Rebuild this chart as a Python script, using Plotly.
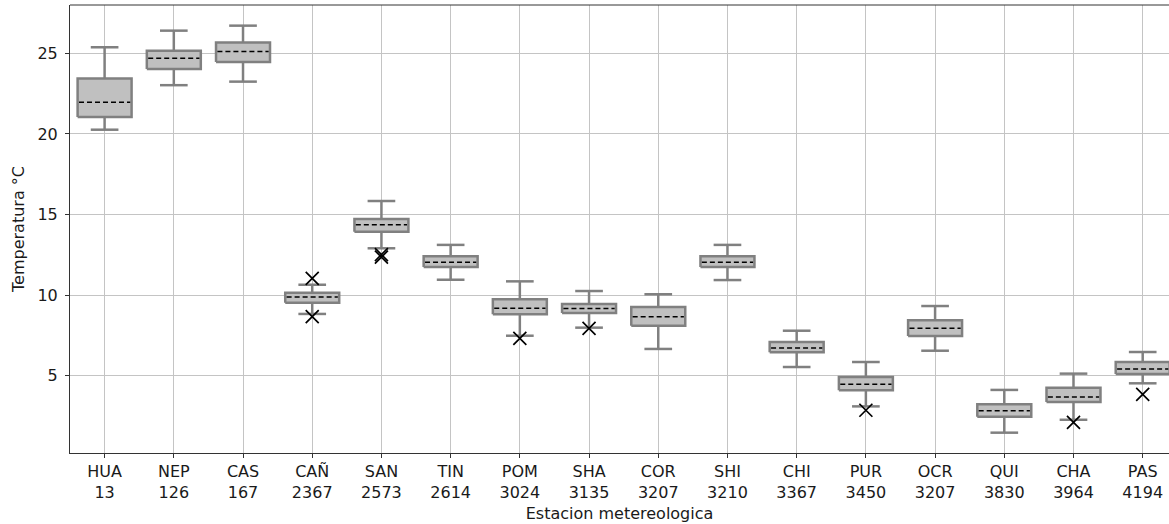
import plotly.graph_objects as go

# Estaciones meteorologicas y su altitud (m s.n.m.)
stations = ["HUA", "NEP", "CAS", "CAÑ", "SAN", "TIN", "POM", "SHA",
            "COR", "SHI", "CHI", "PUR", "OCR", "QUI", "CHA", "PAS"]
altitudes = [13, 126, 167, 2367, 2573, 2614, 3024, 3135,
             3207, 3210, 3367, 3450, 3207, 3830, 3964, 4194]

# Estadisticos de temperatura (°C) por estacion
whisker_low = [20.26, 23.02, 23.24, 8.84, 12.91, 10.96, 7.49, 7.99,
               6.67, 10.94, 5.55, 3.11, 6.56, 1.48, 2.28, 4.54]
q1 = [21.05, 24.03, 24.46, 9.54, 13.94, 11.75, 8.82, 8.90,
      8.11, 11.75, 6.46, 4.11, 7.47, 2.47, 3.38, 5.12]
median = [21.96, 24.69, 25.10, 9.89, 14.37, 12.04, 9.19, 9.17,
          8.67, 12.04, 6.73, 4.48, 7.95, 2.84, 3.69, 5.43]
q3 = [23.43, 25.16, 25.66, 10.16, 14.73, 12.41, 9.75, 9.46,
      9.27, 12.41, 7.10, 4.93, 8.45, 3.24, 4.27, 5.86]
whisker_high = [25.37, 26.40, 26.71, 10.65, 15.84, 13.12, 10.86, 10.26,
                10.06, 13.12, 7.80, 5.86, 9.33, 4.13, 5.14, 6.48]

# Valores atipicos
outlier_station = ["CAÑ", "CAÑ", "SAN", "SAN", "POM", "SHA", "PUR", "CHA", "PAS"]
outlier_temp = [11.05, 8.67, 12.52, 12.36, 7.33, 7.95, 2.87, 2.12, 3.86]

BOX_W = 0.78
CAP_W = 0.40
EDGE = "#808080"
FILL = "#c0c0c0"
SPINE = "#333333"
FONT = dict(family="DejaVu Sans", size=16, color="#1a1a1a")

pos = list(range(1, len(stations) + 1))
idx = {s: p for s, p in zip(stations, pos)}

# Geometria de cajas, bigotes y medianas
bx, by, wx, wy, mx, my = [], [], [], [], [], []
for p, lo, a, m, b, hi in zip(pos, whisker_low, q1, median, q3, whisker_high):
    l, r = p - BOX_W / 2, p + BOX_W / 2
    bx += [l, r, r, l, l, None]
    by += [a, a, b, b, a, None]
    cl, cr = p - CAP_W / 2, p + CAP_W / 2
    wx += [p, p, None, cl, cr, None, p, p, None, cl, cr, None]
    wy += [a, lo, None, lo, lo, None, b, hi, None, hi, hi, None]
    mx += [l + 0.02, r - 0.02, None]
    my += [m, m, None]

fig = go.Figure()
fig.add_trace(go.Scatter(x=wx, y=wy, mode="lines",
                         line=dict(color=EDGE, width=2.5), hoverinfo="skip"))
fig.add_trace(go.Scatter(x=bx, y=by, mode="lines", fill="toself",
                         fillcolor=FILL, line=dict(color=EDGE, width=2.5),
                         hoverinfo="skip"))
fig.add_trace(go.Scatter(x=mx, y=my, mode="lines",
                         line=dict(color="black", width=1.5, dash="5px,3px"),
                         hoverinfo="skip"))
fig.add_trace(go.Scatter(x=[idx[s] for s in outlier_station], y=outlier_temp,
                         mode="markers",
                         marker=dict(symbol="x-thin-open", size=13, color="black",
                                     line=dict(color="black", width=1.7))))

fig.update_layout(
    width=1169, height=524,
    margin=dict(l=70, r=0, t=5, b=71),
    paper_bgcolor="white", plot_bgcolor="white",
    showlegend=False, font=FONT,
    # borde superior del area de trazado
    shapes=[dict(type="line", xref="paper", yref="paper", x0=0, x1=1, y0=1, y1=1,
                 line=dict(color=SPINE, width=1))],
)
fig.update_xaxes(
    range=[0.5, 16.38],
    tickmode="array", tickvals=pos,
    ticktext=[f"{s}<br>{a}" for s, a in zip(stations, altitudes)],
    showgrid=True, gridcolor="#c4c4c4", gridwidth=1,
    showline=True, linecolor=SPINE, linewidth=1, mirror=False,
    ticks="outside", ticklen=4, tickcolor=SPINE,
    zeroline=False,
    title=dict(text="Estacion metereologica", font=FONT, standoff=6),
)
fig.update_yaxes(
    range=[0.22, 27.99],
    tickmode="array", tickvals=[5, 10, 15, 20, 25],
    showgrid=True, gridcolor="#c4c4c4", gridwidth=1,
    showline=True, linecolor=SPINE, linewidth=1,
    ticks="outside", ticklen=4, tickcolor=SPINE,
    ticklabelstandoff=4,
    zeroline=False,
    title=dict(text="Temperatura °C", font=FONT, standoff=8),
)

fig.write_html("out.html")
